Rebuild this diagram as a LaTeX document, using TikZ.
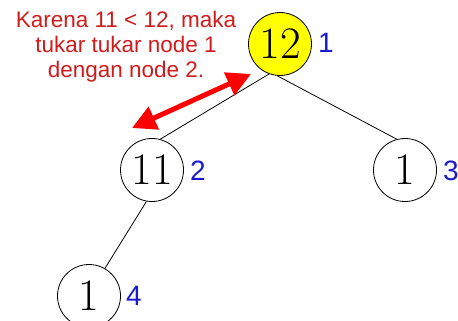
\documentclass[tikz,border=0pt]{standalone}
\usepackage{fontspec}
\setmainfont{Latin Modern Roman}
\newfontfamily\labelfont{Liberation Sans}
\usetikzlibrary{arrows.meta}
\definecolor{notered}{HTML}{D01C1C}
\definecolor{arrowred}{HTML}{FF0000}
\definecolor{idxblue}{HTML}{1A1ACC}
\definecolor{rootyellow}{HTML}{FFFF00}
\tikzset{
  heapnode/.style={circle, draw=black, line width=0.8pt, minimum size=63pt, inner sep=0pt,
    font=\fontsize{45}{45}\selectfont},
  idx/.style={text=idxblue, font=\labelfont\fontsize{28}{28}\selectfont, inner sep=0pt, anchor=west},
  edge/.style={draw=black, line width=0.8pt},
  swaparrow/.style={draw=arrowred, line width=5pt, {Triangle[length=24pt,width=24pt]}-{Triangle[length=24pt,width=24pt]}},
  note/.style={text=notered, font=\labelfont\fontsize{22.5}{25}\selectfont, align=center, inner sep=0pt}
}
\begin{document}
\begin{tikzpicture}[x=1pt,y=-1pt]
  \useasboundingbox (0,0) rectangle (458,321);
  % heap nodes
  \node[heapnode, fill=rootyellow] (n1) at (280,44) {12};
  \node[heapnode] (n2) at (152,170) {11};
  \node[heapnode] (n3) at (405,170) {1};
  \node[heapnode] (n4) at (89,296) {1};
  % array indices
  \node[idx] (i1) at (318,43) {1};
  \node[idx] (i2) at (190,171) {2};
  \node[idx] (i3) at (443,171) {3};
  \node[idx] (i4) at (126,296) {4};
  % tree edges
  \draw[edge] (n1.-110) -- (n2.75);
  \draw[edge] (n1.-95) -- (n3.105);
  \draw[edge] (n2.-100) -- (n4.60);
  % swap note
  \node[note] (txt) at (126,47) {Karena 11 < 12, maka\\tukar tukar node 1\\dengan node 2.};
  \coordinate (aa) at (251,74);
  \coordinate (ab) at (132,128);
  \draw[swaparrow] (aa) -- (ab);
\end{tikzpicture}
\end{document}
